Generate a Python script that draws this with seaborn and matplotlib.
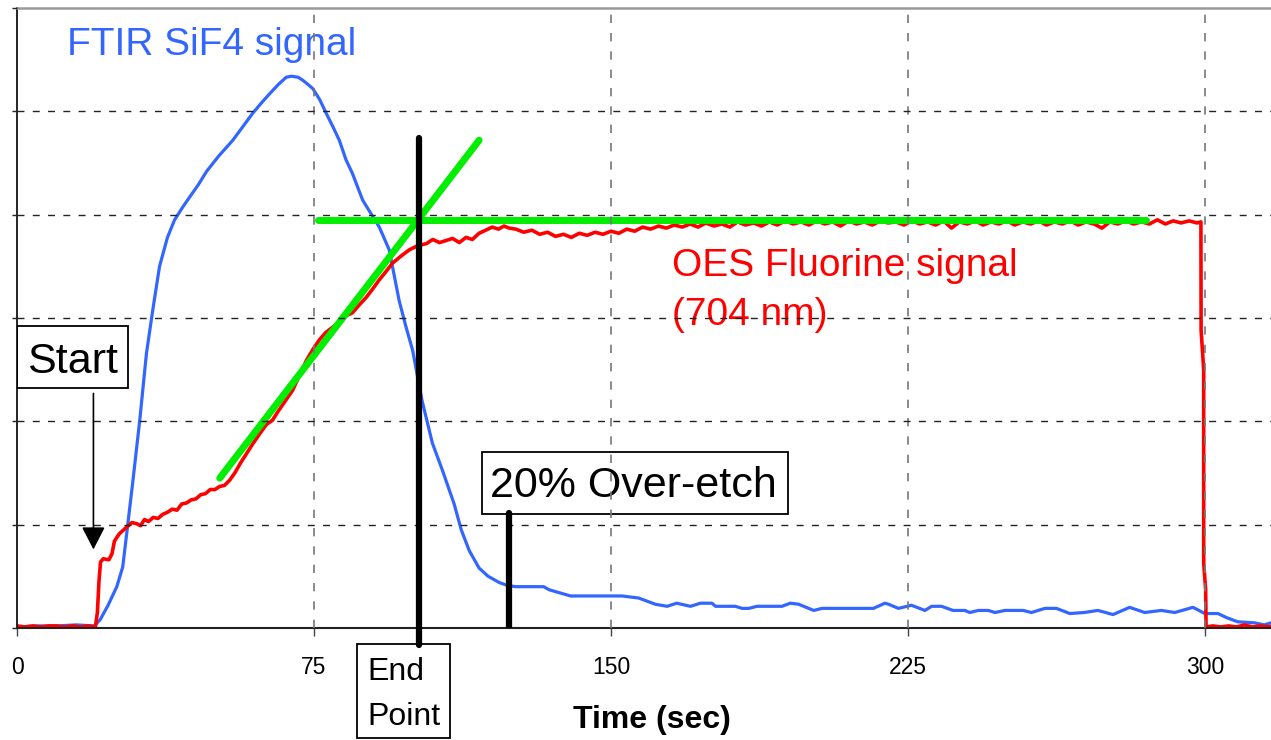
import matplotlib
matplotlib.use("Agg")
import matplotlib.pyplot as plt
from matplotlib.patches import Rectangle
import seaborn as sns

# ---------------- data ----------------
ftir_time = [0, 5, 10, 15, 19.5, 21, 23, 25.2, 26.7, 28, 29.2, 31, 32.7, 34.3, 36, 38, 39.8,
             41.8, 43.6, 45.8, 47.9, 51, 54.5, 57, 59.5, 61.7, 63.8, 66, 68, 69.3, 71, 72.2,
             73.5, 74.7, 76.5, 78.1, 79.8, 81.4, 83.1, 84.7, 86, 87.3, 89.4, 91.5, 94, 96.5,
             98.2, 99.9, 102.3, 104.9, 107.5, 110.4, 112.2, 114.2, 116.7, 119, 121.8, 124, 126,
             133, 134.4, 139.8, 152.8, 157, 161.2, 164.2, 166.6, 170.1, 172.6, 175.5, 176.4,
             181.4, 183.1, 184.8, 186.9, 193.2, 195.3, 197.4, 201.2, 203.3, 216.3, 219.2, 220.1,
             222.6, 225.9, 229.3, 231, 233.5, 236.4, 239.4, 240.6, 242.8, 245.3, 247, 249.5,
             254.1, 256.2, 259.6, 262.5, 265.9, 269.5, 273, 276.8, 281, 284.8, 289, 292.4, 297,
             300, 303.3, 305.5, 308.3, 312.5, 315, 316.7]
ftir_signal = [0.01, 0.02, 0.02, 0.03, 0.02, 0.08, 0.22, 0.40, 0.59, 1.01, 1.40, 2.01, 2.66, 3.08,
               3.50, 3.78, 3.95, 4.07, 4.17, 4.29, 4.42, 4.57, 4.72, 4.85, 4.98, 5.08, 5.17, 5.26,
               5.33, 5.34, 5.33, 5.30, 5.26, 5.22, 5.11, 4.98, 4.85, 4.72, 4.53, 4.40, 4.27, 4.14,
               4.01, 3.88, 3.66, 3.17, 2.92, 2.69, 2.20, 1.79, 1.52, 1.20, 0.95, 0.75, 0.58, 0.50,
               0.44, 0.41, 0.40, 0.40, 0.37, 0.31, 0.31, 0.29, 0.23, 0.21, 0.24, 0.21, 0.24, 0.24,
               0.21, 0.21, 0.19, 0.19, 0.21, 0.21, 0.24, 0.23, 0.17, 0.19, 0.19, 0.24, 0.23, 0.19,
               0.22, 0.17, 0.21, 0.21, 0.17, 0.17, 0.15, 0.17, 0.17, 0.15, 0.17, 0.17, 0.15, 0.19,
               0.19, 0.14, 0.15, 0.17, 0.13, 0.20, 0.15, 0.17, 0.15, 0.20, 0.14, 0.14, 0.10, 0.06,
               0.05, 0.03, 0.05]

oes_time = [0, 2, 4, 6, 8, 10, 12, 14, 16, 18, 19.8, 20.3, 20.7, 21.1, 21.8, 23.2, 24.0, 24.6,
            25.8, 27.5, 29.0, 30.2, 31.2, 32.2, 33.2, 34.4, 35.6, 36.8, 38.0, 39.2, 40.4, 41.6,
            42.8, 44.0, 45.2, 46.4, 47.6, 48.8, 50.0, 51.2, 52.4, 53.7, 55.0, 56.5, 58.0, 59.5,
            61.3, 63.0, 64.5, 66.0, 67.8, 69.6, 71.4, 73.1, 74.8, 76.4, 78.0, 79.7, 81.5, 83.0,
            84.7, 86.5, 88.2, 90.0, 91.5, 93.2, 94.8, 97.0, 99.1, 101.2, 103.4, 105.0, 106.7,
            108.4, 110.0, 111.7, 113.4, 115.0, 116.7, 118.4, 120.0, 121.6, 123.0, 124.3,
            126, 128, 130, 132, 134, 136, 138, 140, 142, 144, 146, 148, 150, 152, 154, 156, 158,
            160, 162, 164, 166, 168, 170, 172, 174, 176, 178, 180, 182, 184, 186, 188, 190, 192,
            194, 196, 198, 200, 202, 204, 206, 208, 210, 212, 214, 216, 218, 220, 222, 224, 226,
            228, 230, 232, 234, 236, 238, 240, 242, 244, 246, 248, 250, 252, 254, 256, 258, 260,
            262, 264, 266, 268, 270, 272, 274, 276, 278, 280, 282, 284, 286, 288, 290, 292, 294,
            296, 298, 299.0, 299.05, 299.7, 299.7, 300.2, 300.3, 302, 304, 306, 308, 310, 312, 314,
            316.7]
oes_signal = [0.02, 0.01, 0.02, 0.01, 0.02, 0.02, 0.01, 0.02, 0.01, 0.02, 0.01, 0.15, 0.45, 0.64,
              0.67, 0.66, 0.72, 0.84, 0.91, 0.97, 1.02, 1.01, 0.99, 1.05, 1.03, 1.07, 1.06, 1.10,
              1.12, 1.15, 1.14, 1.20, 1.21, 1.24, 1.25, 1.29, 1.30, 1.34, 1.34, 1.37, 1.38, 1.43,
              1.50, 1.60, 1.69, 1.78, 1.88, 1.97, 2.01, 2.10, 2.20, 2.30, 2.45, 2.59, 2.70, 2.79,
              2.86, 2.91, 2.97, 3.02, 3.05, 3.13, 3.20, 3.29, 3.37, 3.45, 3.53, 3.60, 3.66, 3.70,
              3.72, 3.76, 3.73, 3.75, 3.77, 3.73, 3.78, 3.76, 3.82, 3.85, 3.88, 3.86, 3.89, 3.87,
              3.86, 3.83, 3.85, 3.81, 3.83, 3.79, 3.81, 3.78, 3.82, 3.80, 3.83, 3.81, 3.84, 3.82,
              3.86, 3.84, 3.88, 3.86, 3.89, 3.87, 3.90, 3.88, 3.91, 3.88, 3.92, 3.89, 3.91, 3.88,
              3.93, 3.90, 3.92, 3.89, 3.93, 3.90, 3.94, 3.91, 3.93, 3.90, 3.94, 3.91, 3.93, 3.89,
              3.94, 3.91, 3.93, 3.90, 3.94, 3.92, 3.93, 3.90, 3.94, 3.91, 3.93, 3.90, 3.94, 3.87,
              3.93, 3.91, 3.94, 3.90, 3.93, 3.91, 3.94, 3.90, 3.93, 3.91, 3.94, 3.90, 3.93, 3.91,
              3.94, 3.90, 3.93, 3.91, 3.87, 3.93, 3.91, 3.94, 3.91, 3.93, 3.91, 3.95, 3.91, 3.94,
              3.92, 3.94, 3.92, 3.93, 2.88, 2.50, 0.63, 0.37, 0.01, 0.02, 0.01, 0.02, 0.01, 0.03,
              0.01, 0.02, 0.01]

fit_flat_time = [75.9, 285.1]
fit_flat_signal = [3.95, 3.95]
fit_ramp_time = [51.2, 116.7]
fit_ramp_signal = [1.45, 4.72]

endpoint_time = [101.6, 101.6]
endpoint_signal = [-0.16, 4.74]
overetch_time = [124.3, 124.3]
overetch_signal = [0.0, 1.11]

x_ticks = [0, 75, 150, 225, 300]
y_ticks = [0, 1, 2, 3, 4, 5, 6]

BLUE = "#3366FF"
RED = "#FF0000"
GREEN = "#00EE00"

# ---------------- style ----------------
sns.set_theme(style="white")
plt.rcParams["font.family"] = ["Liberation Sans", "DejaVu Sans"]

W, H = 1271, 740
fig = plt.figure(figsize=(W / 100, H / 100), dpi=100)
ax = fig.add_axes([17 / W, 112 / H, 1254 / W, 620 / H])

sns.lineplot(x=ftir_time, y=ftir_signal, ax=ax, color=BLUE, lw=2.3,
             estimator=None, sort=False, zorder=2.0)
sns.lineplot(x=oes_time, y=oes_signal, ax=ax, color=RED, lw=2.6,
             estimator=None, sort=False, zorder=2.1)
sns.lineplot(x=fit_flat_time, y=fit_flat_signal, ax=ax, color=GREEN, lw=5,
             estimator=None, sort=False, zorder=2.2, solid_capstyle="round")
sns.lineplot(x=fit_ramp_time, y=fit_ramp_signal, ax=ax, color=GREEN, lw=5,
             estimator=None, sort=False, zorder=2.2, solid_capstyle="round")
sns.lineplot(x=endpoint_time, y=endpoint_signal, ax=ax, color="black", lw=4.5,
             estimator=None, sort=False, zorder=3, solid_capstyle="round", clip_on=False)
sns.lineplot(x=overetch_time, y=overetch_signal, ax=ax, color="black", lw=4.5,
             estimator=None, sort=False, zorder=3, solid_capstyle="round")

ax.set_xlim(0, 316.7)
ax.set_ylim(0, 6)
ax.set_xticks(x_ticks)
ax.set_xticklabels([str(v) for v in x_ticks])
ax.set_yticks(y_ticks)
ax.set_yticklabels([])

ax.set_axisbelow(False)
ax.yaxis.grid(True, color="#222222", linestyle=(0, (5, 6)), lw=1.0)
ax.xaxis.grid(True, color="#777777", linestyle=(0, (5, 6)), lw=1.2)
ygl = ax.yaxis.get_gridlines()
ygl[0].set_visible(False)
ygl[-1].set_visible(False)
ax.xaxis.get_gridlines()[0].set_visible(False)

ax.spines["right"].set_visible(False)
ax.spines["top"].set_visible(True)
ax.spines["left"].set_visible(True)
ax.spines["bottom"].set_visible(True)
ax.spines["top"].set_color("#999999")
ax.spines["top"].set_linewidth(1.8)
ax.spines["left"].set_color("black")
ax.spines["left"].set_linewidth(1.2)
ax.spines["bottom"].set_color("#222222")
ax.spines["bottom"].set_linewidth(1.5)

ax.tick_params(axis="x", bottom=True, direction="out", length=5.5, width=1.0,
               color="#444444", labelsize=16.5, pad=15, labelcolor="black")
ax.tick_params(axis="y", left=True, direction="out", length=3.6, width=1.0,
               color="#222222")

ax.set_xlabel("Time (sec)", fontsize=23, fontweight="bold", color="black")
ax.xaxis.label.set_va("baseline")
ax.xaxis.set_label_coords(0.506, -0.1613)

# ---------------- annotations ----------------
def px2data(px, py):
    return (px - 17) / 3.96, (628 - py) / 103.33

def box(x0, y0, x1, y1, clip=True):
    (a, b), (c, d) = px2data(x0, y1), px2data(x1, y0)
    ax.add_patch(Rectangle((a, b), c - a, d - b, facecolor="white", edgecolor="black",
                           lw=1.3, zorder=1, clip_on=clip))

def label(px, py, s, size, color="black"):
    x, y = px2data(px, py)
    ax.text(x, y, s, fontsize=size, color=color, ha="left", va="baseline",
            zorder=1.5, clip_on=False)

box(17, 326, 128, 388)
label(27, 373, "Start", 31)
box(482, 452, 788, 514)
label(490, 497, "20% Over-etch", 31)
box(357, 644, 450, 738, clip=False)
label(367, 680, "End", 23)
label(367, 725, "Point", 23)

label(67, 55, "FTIR SiF4 signal", 28, BLUE)
label(672, 276, "OES Fluorine signal", 28, RED)
label(672, 325, "(704 nm)", 28, RED)

ax.annotate("", xy=(19.3, 0.76), xytext=(19.3, 2.27),
            arrowprops=dict(arrowstyle="-|>,head_length=0.7,head_width=0.36",
                            mutation_scale=20, lw=1.2, color="black",
                            shrinkA=0, shrinkB=0), zorder=3)

fig.savefig("out.png", dpi=100)
